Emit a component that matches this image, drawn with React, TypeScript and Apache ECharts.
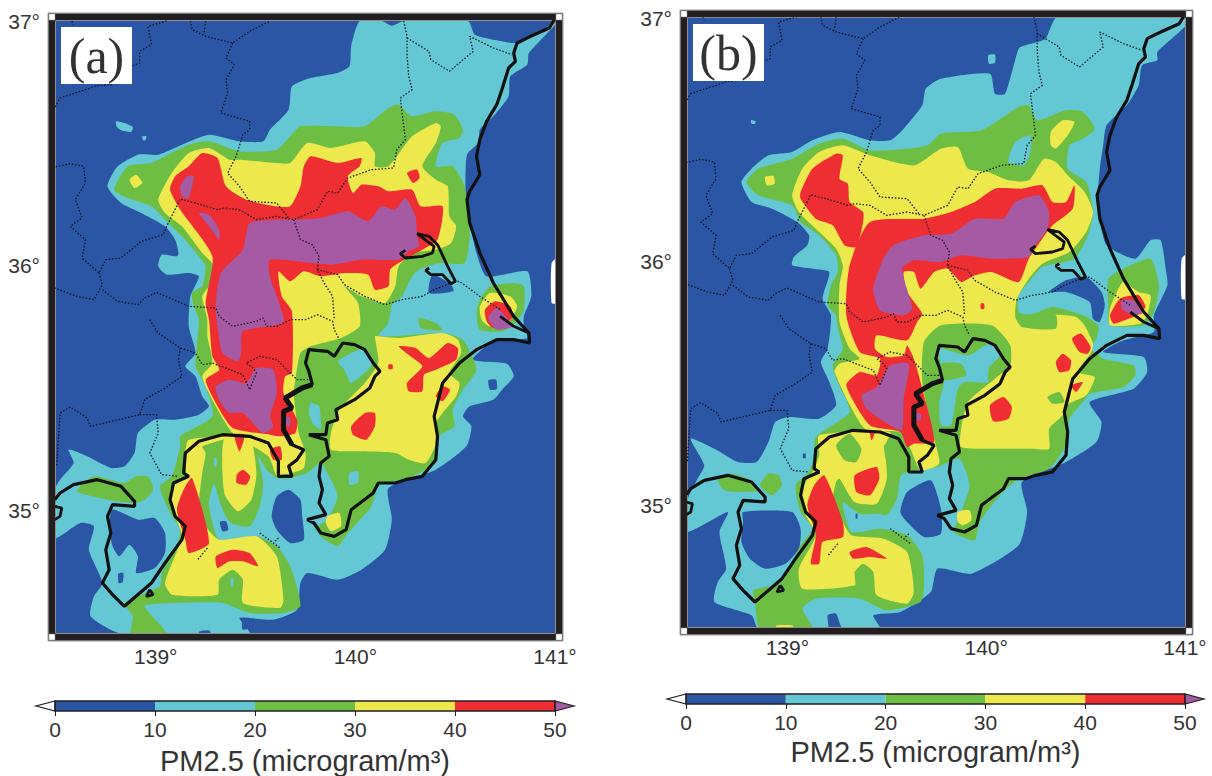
import React, { useEffect, useRef } from "react";
import * as echarts from "echarts";

// Palette: below 10, 10-20, 20-30, 30-40, 40-50, above 50
const levelColors = ["#2B55A5", "#63C7D4", "#6EBE44", "#EDE84B", "#EE2E33", "#A65AA4", "#FFFFFF"];
const barStops = [0, 10, 20, 30, 40, 50];
const lonTicks = [139, 140, 141];
const latTicks = [35, 36, 37];
const barTitle = "PM2.5 (microgram/m³)";

// Contours and map lines are sampled in model-grid units (u east, v south), converted to lon/lat below.
const A10 = [[945,34,1010,34,1040,48,1075,34,1265,34,1285,75,1350,92,1405,100,1490,60,1518,34,1522,45,1445,130,1440,165,1390,200,1385,260,1340,320,1300,360,1295,400,1262,435,1258,560,1270,640,1290,730,1320,800,1440,785,1452,860,1430,920,1430,950,1440,985,1340,995,1280,1050,1380,1062,1400,1100,1370,1135,1340,1170,1270,1190,1250,1220,1275,1250,1260,1310,1170,1380,1030,1435,1040,1530,1020,1620,950,1680,880,1710,790,1690,770,1720,760,1800,690,1830,590,1825,620,1872,240,1872,150,1820,160,1760,185,1720,145,1620,160,1550,120,1540,44,1585,44,1440,60,1410,100,1360,85,1320,140,1340,210,1375,250,1370,280,1330,290,1270,340,1230,400,1230,470,1215,500,1190,480,1160,460,1100,430,1070,460,1030,440,950,445,860,470,800,440,790,375,795,350,770,360,735,405,740,410,730,400,690,370,650,300,610,240,580,200,530,230,470,290,435,350,435,420,405,500,375,590,395,660,395,680,360,735,300,745,230,800,205,880,190,915,170,920,110],
[225,335,250,340,275,352,270,367,240,362,228,352],[303,380,315,380,312,392,305,392]];
const A10holes = [[735,1440,770,1470,775,1520,780,1590,740,1600,700,1560,685,1520,700,1460],[215,1500,290,1530,340,1525,370,1570,370,1630,340,1675,285,1690,290,1640,265,1605,235,1640,215,1610,205,1550],[532,1537,550,1535,557,1560,540,1565],[1325,1112,1348,1110,1350,1138,1330,1140],[232,1692,247,1690,245,1718,233,1720],[1160,795,1215,825,1222,845,1150,850],[472,1865,500,1862,505,1872,470,1872],[600,1832,690,1835,600,1860]];
const A20 = [[220,540,260,565,330,590,380,640,420,680,470,740,490,770,480,830,450,850,455,890,470,930,465,1000,460,1070,490,1130,510,1220,415,1280,415,1310,390,1400,355,1430,385,1510,415,1560,400,1620,360,1690,355,1730,250,1780,275,1820,270,1872,375,1872,310,1790,400,1780,540,1780,620,1810,720,1810,770,1790,740,1670,700,1610,640,1580,530,1590,510,1540,500,1480,515,1420,530,1470,545,1510,565,1540,620,1550,650,1490,660,1420,645,1340,670,1380,700,1405,740,1405,790,1390,830,1360,855,1400,880,1460,850,1530,820,1550,830,1580,880,1610,910,1570,980,1490,1000,1430,1100,1400,1170,1360,1180,1280,1225,1250,1220,1200,1250,1140,1290,1080,1250,990,1190,970,1000,980,1030,940,1040,885,1070,860,1100,800,1120,780,1180,760,1255,760,1270,680,1265,620,1255,530,1220,470,1170,470,1190,400,1240,385,1250,360,1225,315,1170,305,1100,320,1060,285,1030,295,960,350,880,350,770,350,740,380,700,420,590,425,500,395,440,405,370,440,330,460,260,470],
[110,1445,160,1400,250,1420,285,1400,320,1400,335,1440,310,1470,280,1480,200,1470],
[1300,870,1330,830,1400,820,1430,830,1430,900,1405,940,1370,965,1300,960,1290,910],
[1120,925,1170,940,1190,962,1125,955]];
const A20holes = [[880,1055,960,1015,985,1060,920,1120,900,1080],[800,1180,825,1190,830,1260,805,1240,795,1210],[915,1390,940,1385,940,1420,915,1425],[515,1345,522,1345,522,1370,515,1370],[565,1705,572,1705,572,1730,565,1730]];
const A30 = [[350,570,370,610,420,650,480,730,515,770,500,830,480,860,495,930,495,980,510,1060,480,1100,520,1190,570,1270,675,1340,700,1400,715,1395,745,1390,780,1375,785,1330,765,1270,750,1150,755,1110,770,1030,800,1010,890,985,945,950,940,880,900,830,950,860,1020,880,1050,830,1060,770,1100,730,1170,720,1215,700,1230,650,1210,620,1205,530,1170,510,1130,470,1170,400,1185,350,1170,340,1100,380,1030,470,990,470,990,430,960,395,860,415,790,400,740,460,700,460,590,450,560,450,500,415,440,430,390,490],
[440,1290,570,1280,480,1310,490,1330,480,1390,470,1490,490,1550,530,1590,640,1580,700,1640,720,1770,710,1795,600,1780,600,1710,570,1680,530,1710,525,1755,390,1755,370,1720,420,1580,400,1520,385,1440,430,1400,430,1330],
[545,1285,620,1280,640,1390,625,1470,585,1505,545,1450],
[1000,980,1060,985,1190,970,1235,990,1245,1030,1210,1090,1240,1120,1230,1160,1190,1210,1170,1240,1175,1290,1140,1360,1090,1350,1050,1330,940,1325,860,1320,860,1270,885,1200,960,1120,1000,1060,990,980],
[850,1520,885,1510,890,1550,860,1565,845,1540],
[265,510,285,495,303,520,280,535],
[1300,890,1330,850,1390,860,1410,890,1390,930,1330,950,1305,930]];
const A40 = [[385,540,400,500,440,470,480,430,525,445,550,530,610,570,700,590,740,590,770,530,780,470,800,440,880,460,950,445,945,470,910,500,925,550,950,525,1000,530,1030,545,1100,540,1125,590,1190,590,1175,690,1130,720,1060,760,1035,780,1030,830,990,840,970,795,900,790,830,800,780,785,740,815,705,785,715,860,745,905,745,1090,725,1100,720,1150,760,1230,755,1270,710,1280,680,1275,570,1255,520,1180,490,1110,530,1080,510,1040,500,930,490,880,510,740,415,600],
[575,1275,605,1275,590,1325],[680,1320,710,1310,715,1350,690,1350],
[600,1380,622,1400,610,1425,582,1420,582,1395],
[450,1405,500,1600,440,1630,430,1590,405,1500,425,1440],
[520,1640,570,1620,620,1630,645,1670,600,1655,560,1655,525,1675],
[1060,1010,1110,1015,1150,1045,1205,1000,1235,1015,1230,1050,1170,1080,1135,1095,1130,1145,1090,1145,1085,1120,1130,1070,1095,1040],
[920,1250,960,1210,990,1210,990,1250,965,1290,925,1275],
[1170,1160,1190,1130,1212,1140,1190,1175],[1030,1065,1042,1065,1042,1078,1030,1078],
[1085,490,1115,480,1122,505,1103,520],
[1315,900,1345,875,1390,890,1395,925,1340,955,1320,935]];
const A50 = [[415,530,435,500,455,500,440,565,420,560],[470,610,500,615,530,660,530,690,500,650],
[620,640,700,630,750,630,830,625,910,605,970,635,1010,590,1050,600,1080,565,1110,620,1115,680,1120,710,1090,725,1060,750,950,750,860,765,680,750,680,800,710,890,720,940,600,965,595,1030,585,1055,540,1030,525,950,520,890,535,790,600,720],
[520,1130,560,1110,610,1120,640,1075,690,1080,700,1150,680,1220,690,1250,660,1270,600,1210,560,1210,530,1170],
[725,1220,740,1225,738,1250,725,1245],[1325,925,1350,895,1385,930,1400,950,1350,960]];

const B10 = [[1145,34,1525,34,1525,60,1440,140,1440,165,1395,180,1385,240,1350,300,1290,360,1280,420,1270,490,1265,560,1270,640,1290,720,1375,760,1420,705,1450,705,1465,790,1470,840,1430,930,1430,980,1340,1005,1280,1040,1400,1055,1410,1100,1370,1150,1240,1190,1275,1250,1260,1310,1170,1370,1040,1430,1055,1520,1030,1620,890,1705,790,1690,770,1760,680,1820,600,1830,620,1870,510,1870,490,1825,465,1830,465,1870,260,1870,240,1830,130,1790,140,1730,165,1690,145,1580,170,1520,48,1580,48,1490,80,1420,100,1380,60,1300,130,1330,200,1370,255,1370,290,1310,310,1250,350,1235,440,1240,490,1200,470,1130,445,1070,465,1030,475,930,450,880,470,800,420,790,360,780,365,755,405,720,410,690,375,650,300,610,240,590,210,530,240,490,290,450,360,440,420,405,500,380,590,405,650,405,690,370,745,300,755,250,800,220,945,205,960,265,990,265,1030,130,1050,120,1085,110,1110,100],
[940,150,960,148,960,172,942,175],[238,344,252,348,250,356,240,355]];
const B10holes = [[680,1520,700,1460,770,1425,800,1510,800,1585,750,1595,700,1550],[215,1520,360,1520,385,1570,380,1630,340,1675,280,1690,235,1660,210,1610,215,1550],[1120,860,1170,825,1230,815,1275,860,1285,900,1270,950,1250,940,1240,890,1170,860],[392,1345,400,1345,400,1358,392,1358],[548,1525,553,1525,553,1540,548,1540]];
const B20 = [[225,530,260,490,360,460,440,415,510,400,590,435,700,430,760,420,800,385,920,375,1030,305,1060,300,1085,345,1170,315,1220,320,1255,370,1220,400,1180,420,1175,490,1230,530,1250,620,1235,690,1195,760,1100,785,1060,830,1030,870,1030,920,1060,930,1130,905,1220,930,1265,960,1260,1000,1240,1025,1280,1060,1370,1080,1375,1110,1340,1145,1240,1165,1220,1190,1180,1240,1170,1320,1120,1390,1030,1420,970,1475,915,1550,900,1605,840,1580,860,1520,885,1440,855,1360,790,1385,700,1400,680,1415,670,1480,640,1530,620,1525,560,1525,510,1490,535,1580,620,1570,700,1590,745,1650,750,1740,740,1790,640,1815,560,1780,430,1780,390,1810,420,1870,265,1870,250,1790,245,1755,320,1735,350,1690,385,1620,420,1570,385,1520,370,1440,410,1400,425,1350,430,1295,530,1220,490,1120,480,1080,510,1030,495,970,490,930,465,900,475,840,495,800,490,750,440,690,385,650,360,600,260,570],
[140,1425,180,1405,230,1420,265,1455,195,1460,160,1455],[265,1440,290,1405,320,1410,330,1440,300,1470],
[1295,820,1340,790,1420,760,1445,840,1430,920,1400,960,1300,960,1295,900]];
const B20holes = [[1000,470,1020,410,1065,390,1065,440,1045,480],[795,1030,880,1050,945,1015,975,1050,945,1085,940,1130,870,1130,850,1150,830,1260,800,1260,795,1190,810,1130,800,1080]];
const B20patches = [[800,1075,860,1075,875,1110,820,1125,805,1120],[860,1145,920,1155,880,1200,860,1220],[945,1080,975,1100,960,1130,940,1125]];
const B30 = [[360,570,380,620,440,680,490,730,510,780,500,840,500,950,530,1030,560,1060,500,1075,485,1100,575,1270,680,1280,710,1330,740,1395,795,1375,780,1300,745,1130,750,1010,800,960,950,960,1005,1020,1005,1080,960,1120,880,1190,860,1270,860,1325,1000,1330,1065,1330,1120,1330,1120,1270,1160,1230,1170,1200,1230,1170,1255,1115,1205,1100,1245,1040,1250,1015,1225,960,1200,935,1130,930,1130,970,1040,965,1020,935,1025,880,1060,820,1100,775,1180,740,1230,680,1250,620,1225,560,1175,510,1140,470,1105,460,1060,525,1000,525,940,500,880,490,850,425,800,430,720,480,590,450,510,420,440,440,390,490],
[440,1290,650,1280,635,1320,640,1420,610,1495,545,1490,500,1420,490,1430,480,1490,510,1550,535,1590,630,1600,700,1640,720,1760,700,1795,610,1770,600,1700,570,1675,545,1700,545,1740,390,1750,380,1690,430,1590,400,1530,385,1460,420,1400,440,1350],
[280,515,305,512,308,535,285,540],[1125,380,1160,345,1195,350,1175,390,1140,430,1125,420],
[315,1860,360,1860,365,1870,310,1870],[850,1520,885,1515,890,1545,865,1560,850,1550],
[1320,860,1340,830,1385,860,1420,870,1410,930,1390,955,1300,960,1300,910]];
const B30patches = [[1115,1175,1150,1160,1165,1190,1130,1195],[490,1320,530,1285,565,1330,550,1370,515,1365],[632,1320,670,1315,695,1390,660,1400,640,1370],[1030,930,1140,930,1140,970,1050,965]];
const B40 = [[385,560,420,490,490,445,510,450,500,520,525,535,530,590,570,620,570,650,550,725,515,720,480,660,430,640,385,580],
[590,650,750,640,830,620,900,590,960,550,1040,550,1100,540,1130,590,1170,590,1195,540,1190,610,1130,660,1100,700,1060,760,1030,830,950,800,900,810,860,830,820,790,780,800,740,850,720,800,690,800,700,860,745,925,730,950,700,1005,610,990,605,1030,640,1055,690,1050,700,1020,720,1060,745,1150,780,1310,720,1315,700,1325,680,1280,590,1260,520,1140,560,1100,610,1110,620,1060,560,1040,520,930,530,780],
[590,1280,605,1280,595,1305],[545,1410,610,1385,618,1420,590,1470,550,1460],
[455,1410,510,1550,510,1595,450,1610,440,1675,415,1675,430,1590,405,1500,425,1440],
[530,1640,580,1625,640,1660,590,1655,540,1660],[945,1200,985,1175,1010,1205,1000,1240,955,1248],
[1140,1070,1160,1045,1185,1065,1180,1095,1150,1100],[1188,1000,1215,985,1243,1025,1235,1045,1210,1040],
[1185,1140,1220,1130,1200,1160],[918,895,928,895,928,910,918,910],
[1300,930,1330,880,1385,870,1405,905,1380,930,1330,950,1310,955]];
const B50 = [[630,760,660,720,750,690,830,685,900,640,985,640,1020,590,1090,570,1120,620,1115,670,1080,720,1060,755,950,760,860,750,800,770,720,765,685,790,715,910,690,930,620,915,600,850],
[565,1170,610,1145,650,1080,705,1075,690,1180,685,1275,650,1260,580,1210],[715,1225,740,1225,740,1245,720,1245],[1335,885,1370,885,1395,925,1360,925,1335,910]];
const missingPatch = [[1512,760,1530,745,1530,880,1512,880]];

const coastMain = [1520,30,1505,55,1450,80,1410,100,1400,130,1405,155,1385,175,1365,240,1350,285,1320,335,1300,390,1290,440,1300,495,1270,545,1262,570,1270,640,1300,730,1340,820,1400,920,1445,970,1447,1000,1400,990,1350,990,1290,1020,1240,1060,1190,1120,1165,1220,1175,1280,1170,1350,1130,1400,1080,1410,1050,1420,1000,1420,985,1450,920,1500,905,1560,870,1580,830,1570,810,1540,790,1530,845,1515,825,1480,835,1440,825,1400,830,1360,855,1340,845,1290,795,1275,845,1275,850,1240,880,1230,875,1200,930,1170,975,1135,990,1100,1005,1085,985,1060,960,1020,930,1005,895,1000,870,1040,850,1025,795,1020,785,1060,795,1085,805,1125,775,1135,725,1165,745,1195,720,1205,720,1260,745,1305,780,1320,760,1350,735,1370,745,1400,705,1400,705,1355,675,1300,620,1280,540,1275,470,1295,430,1330,425,1390,440,1400,395,1420,385,1470,400,1520,430,1550,420,1590,370,1660,330,1720,250,1790,215,1755,185,1720,205,1680,195,1620,210,1570,200,1520,215,1485,280,1490,280,1475,240,1430,170,1410,100,1425,60,1450,44,1470];
const coastBits = [[44,1490,65,1495,60,1520,44,1530],[1080,722,1065,732,1080,745,1130,740,1160,730,1165,710,1145,695,1115,672,1150,680,1175,705,1205,770,1228,815,1215,822,1190,795,1155,795,1140,782,1150,775],[1360,920,1400,950,1445,970],[325,1740,335,1755,315,1760,325,1740]];
const coastHeavy = [805,1125,775,1135,725,1165,745,1195,720,1205,720,1260,745,1305];
const borders = [[95,34,100,45],[375,34,320,50,330,105,295,125,295,160,270,170,215,225,170,228,120,245,60,265,44,295],[445,34,450,60,490,80,570,100,620,65,680,34],[490,34,485,75],
[570,100,550,145,575,165,550,210,555,250,535,310,620,335,620,360,600,375,580,440,555,490,590,530,620,575,700,580,735,625],
[1075,34,1085,80,1085,140,1090,200,1100,240,1065,265,1080,390,1055,420,1045,475,980,480,910,505,880,550,850,545,820,600,750,630,700,620,640,630,590,600,545,595,525,600,460,580,415,568,375,650,365,675,300,695,240,745,195,750,175,790,125,745,135,690,90,650,125,625,105,570,135,520,130,470,90,462,44,472],
[1085,85,1150,125,1155,150,1210,185,1280,125,1270,80,1340,115,1395,135],
[175,790,185,825,160,870,110,860,44,835],[185,840,230,875,290,885,310,865,345,848,440,890,520,895,530,920,570,950,640,935,660,925,670,950,700,950,740,930,785,930,820,915,865,935,870,960,885,990],
[750,630,770,690,805,705,825,740,820,780,840,820,865,860,870,930],
[820,780,880,795,900,825,960,860,1020,885,1070,870,1130,860,1165,840,1215,820,1240,815,1300,860,1360,900],
[325,930,350,970,415,1015,460,1030,480,1065,510,1060,600,1095,620,1140,640,1090,630,1075,610,1060,650,1040,700,1050,760,1110,795,1110],
[415,1015,410,1050,420,1100,370,1135,310,1170,295,1215,150,1250,140,1225,90,1192,60,1210,50,1370],
[295,1215,345,1215,350,1270,325,1330,360,1395,410,1400],[495,1615,465,1652],[650,1570,710,1615],[705,1585,695,1595]];

const frameA = { uL: 48, uR: 1522, vT: 34, vB: 1870 };
const frameB = { uL: 52, uR: 1522, vT: 38, vB: 1865 };

const toLonLat = (f: any, flat: number[]) => {
  const out: number[][] = [];
  for (let i = 0; i < flat.length; i += 2) {
    out.push([
      138.5 + ((flat[i] - f.uL) / (f.uR - f.uL)) * 2.5,
      37 - ((flat[i + 1] - f.vT) / (f.vB - f.vT)) * 2.5,
    ]);
  }
  return out;
};

const layersA: [number, number[][]][] = [[1, A10], [0, A10holes], [2, A20], [1, A20holes], [3, A30], [4, A40], [5, A50], [6, missingPatch]];
const layersB: [number, number[][]][] = [[1, B10], [0, B10holes], [2, B20], [1, B20holes], [2, B20patches], [3, B30], [2, B30patches], [4, B40], [5, B50], [6, missingPatch]];

const font = "'Liberation Sans', Arial, sans-serif";
const ink = "#231F20";

function mapSeries(layers: [number, number[][]][], frame: any, idx: number) {
  const items: { level: number; pts: number[][] }[] = [];
  layers.forEach(([level, polys]) => polys.forEach((p) => items.push({ level, pts: toLonLat(frame, p) })));
  const out: any[] = [
    {
      type: "custom",
      xAxisIndex: idx,
      yAxisIndex: idx,
      coordinateSystem: "cartesian2d",
      clip: true,
      silent: true,
      z: 2,
      data: items.map((it, i) => [it.pts[0][0], it.pts[0][1], i]),
      renderItem: (params: any, api: any) => {
        const it = items[params.dataIndex];
        return {
          type: "polygon",
          shape: { points: it.pts.map((p) => api.coord(p)), smooth: 0.2 },
          style: { fill: levelColors[it.level] },
        };
      },
    },
  ];
  const lineSer = (flat: number[], width: number, type: any, z: number, color: string) => ({
    type: "line",
    xAxisIndex: idx,
    yAxisIndex: idx,
    data: toLonLat(frame, flat),
    showSymbol: false,
    symbol: "none",
    silent: true,
    clip: true,
    z,
    lineStyle: { color, width, type },
  });
  borders.forEach((b) => out.push(lineSer(b, 1.3, [1.5, 1.8], 3, "#14161f")));
  out.push(lineSer(coastMain, 3.2, "solid", 4, "#111111"));
  coastBits.forEach((b) => out.push(lineSer(b, 2.8, "solid", 4, "#111111")));
  out.push(lineSer(coastHeavy, 5, "solid", 4, "#111111"));
  return out;
}

function barSeries(idx: number) {
  const segs = barStops.slice(0, -1).map((s, i) => [s, barStops[i + 1], i]);
  return [
    {
      type: "custom",
      xAxisIndex: idx,
      yAxisIndex: idx,
      silent: true,
      z: 3,
      data: segs,
      encode: { x: [0, 1] },
      renderItem: (params: any, api: any) => {
        const a = api.coord([api.value(0), 0]);
        const b = api.coord([api.value(1), 1]);
        return {
          type: "rect",
          shape: { x: a[0], y: b[1], width: b[0] - a[0], height: a[1] - b[1] },
          style: { fill: levelColors[api.value(2)] },
        };
      },
    },
    {
      type: "custom",
      xAxisIndex: idx,
      yAxisIndex: idx,
      silent: true,
      clip: false,
      z: 4,
      data: [[0, -1.9, 6], [50, 51.9, 5]],
      encode: { x: [0, 1] },
      renderItem: (params: any, api: any) => {
        const base0 = api.coord([api.value(0), 0]);
        const base1 = api.coord([api.value(0), 1]);
        const tip = api.coord([api.value(1), 0.5]);
        return {
          type: "polygon",
          shape: { points: [base0, base1, tip] },
          style: { fill: levelColors[api.value(2)], stroke: ink, lineWidth: 1.2 },
        };
      },
    },
    {
      type: "custom",
      xAxisIndex: idx,
      yAxisIndex: idx,
      silent: true,
      clip: false,
      z: 5,
      data: [[0, 50]],
      encode: { x: [0, 1] },
      renderItem: (params: any, api: any) => {
        const a = api.coord([api.value(0), 0]);
        const b = api.coord([api.value(1), 1]);
        return {
          type: "rect",
          shape: { x: a[0], y: b[1], width: b[0] - a[0], height: a[1] - b[1] },
          style: { fill: "none", stroke: ink, lineWidth: 1.3 },
        };
      },
    },
  ];
}

function frameGraphics(r: { l: number; t: number; w: number; h: number }, tag: string, box: number[]) {
  const b = 7;
  const o = 0.5;
  const els: any[] = [
    { type: "rect", z: 20, shape: { x: r.l - b - 1, y: r.t - b - 1, width: r.w + 2 * b + 2, height: r.h + 2 * b + 2 }, style: { fill: "none", stroke: "#9a9a9a", lineWidth: 1 } },
    { type: "rect", z: 21, shape: { x: r.l - b / 2 - o, y: r.t - b / 2 - o, width: r.w + b + 2 * o, height: r.h + b + 2 * o }, style: { fill: "none", stroke: ink, lineWidth: b } },
  ];
  [[r.l - b, r.t - b], [r.l + r.w + 1, r.t - b], [r.l - b, r.t + r.h + 1], [r.l + r.w + 1, r.t + r.h + 1]].forEach(([x, y]) =>
    els.push({ type: "rect", z: 22, shape: { x, y, width: 6, height: 6 }, style: { fill: "#fff", stroke: "#888", lineWidth: 0.5 } })
  );
  els.push({ type: "rect", z: 23, shape: { x: box[0], y: box[1], width: 71, height: 57 }, style: { fill: "#fff" } });
  els.push({
    type: "text",
    z: 24,
    x: box[0] + 35.5,
    y: box[1] + 29,
    style: { text: tag, font: "50px 'Liberation Serif', serif", fill: "#333", align: "center", verticalAlign: "middle" },
  });
  return els;
}

export default function App() {
  const ref = useRef<HTMLDivElement>(null);
  useEffect(() => {
    document.body.style.margin = "0";
    const chart = echarts.init(ref.current!, undefined, { renderer: "svg" });
    const gridA = { l: 56, t: 21, w: 499, h: 612 };
    const gridB = { l: 688, t: 18, w: 497, h: 609 };
    const barA = { l: 55, t: 701, w: 500, h: 10 };
    const barB = { l: 686, t: 694, w: 499, h: 10 };
    const geoX = (gridIndex: number, margin: number) => ({
      type: "value", gridIndex, min: 138.5, max: 141,
      axisLine: { show: false }, axisTick: { show: false }, splitLine: { show: false },
      axisLabel: { customValues: lonTicks, formatter: "{value}°", margin, fontSize: 21, color: "#333", fontFamily: font, hideOverlap: false },
    });
    const geoY = (gridIndex: number) => ({
      type: "value", gridIndex, min: 34.5, max: 37,
      axisLine: { show: false }, axisTick: { show: false }, splitLine: { show: false },
      axisLabel: { customValues: latTicks, formatter: "{value}°", margin: 16, fontSize: 21, color: "#333", fontFamily: font, hideOverlap: false },
    });
    const barX = (gridIndex: number, nameGap: number) => ({
      type: "value", gridIndex, min: 0, max: 50, interval: 10,
      name: barTitle, nameLocation: "middle", nameGap,
      nameTextStyle: { fontSize: 29, color: "#333", fontFamily: font },
      axisLine: { show: false },
      axisTick: { show: true, length: 5, lineStyle: { color: ink, width: 1 } },
      splitLine: { show: false },
      axisLabel: { margin: 8, fontSize: 21, color: "#333", fontFamily: font, showMinLabel: true, showMaxLabel: true },
    });
    const barY = (gridIndex: number) => ({ type: "value", gridIndex, min: 0, max: 1, show: false });
    const g = (r: any, extra: any = {}) => ({ left: r.l, top: r.t, width: r.w, height: r.h, containLabel: false, show: false, ...extra });
    chart.setOption({
      animation: false,
      backgroundColor: "#fff",
      grid: [
        g(gridA, { show: true, backgroundColor: levelColors[0], borderWidth: 0 }),
        g(gridB, { show: true, backgroundColor: levelColors[0], borderWidth: 0 }),
        g(barA),
        g(barB),
      ],
      xAxis: [geoX(0, 13), geoX(1, 10), barX(2, 35), barX(3, 33)],
      yAxis: [geoY(0), geoY(1), barY(2), barY(3)],
      series: [...mapSeries(layersA, frameA, 0), ...mapSeries(layersB, frameB, 1), ...barSeries(2), ...barSeries(3)],
      graphic: { elements: [...frameGraphics(gridA, "(a)", [61, 27]), ...frameGraphics(gridB, "(b)", [693, 24])] },
    });
    return () => chart.dispose();
  }, []);
  return <div ref={ref} style={{ width: 1212, height: 776, position: "absolute", left: 0, top: 0 }} />;
}
